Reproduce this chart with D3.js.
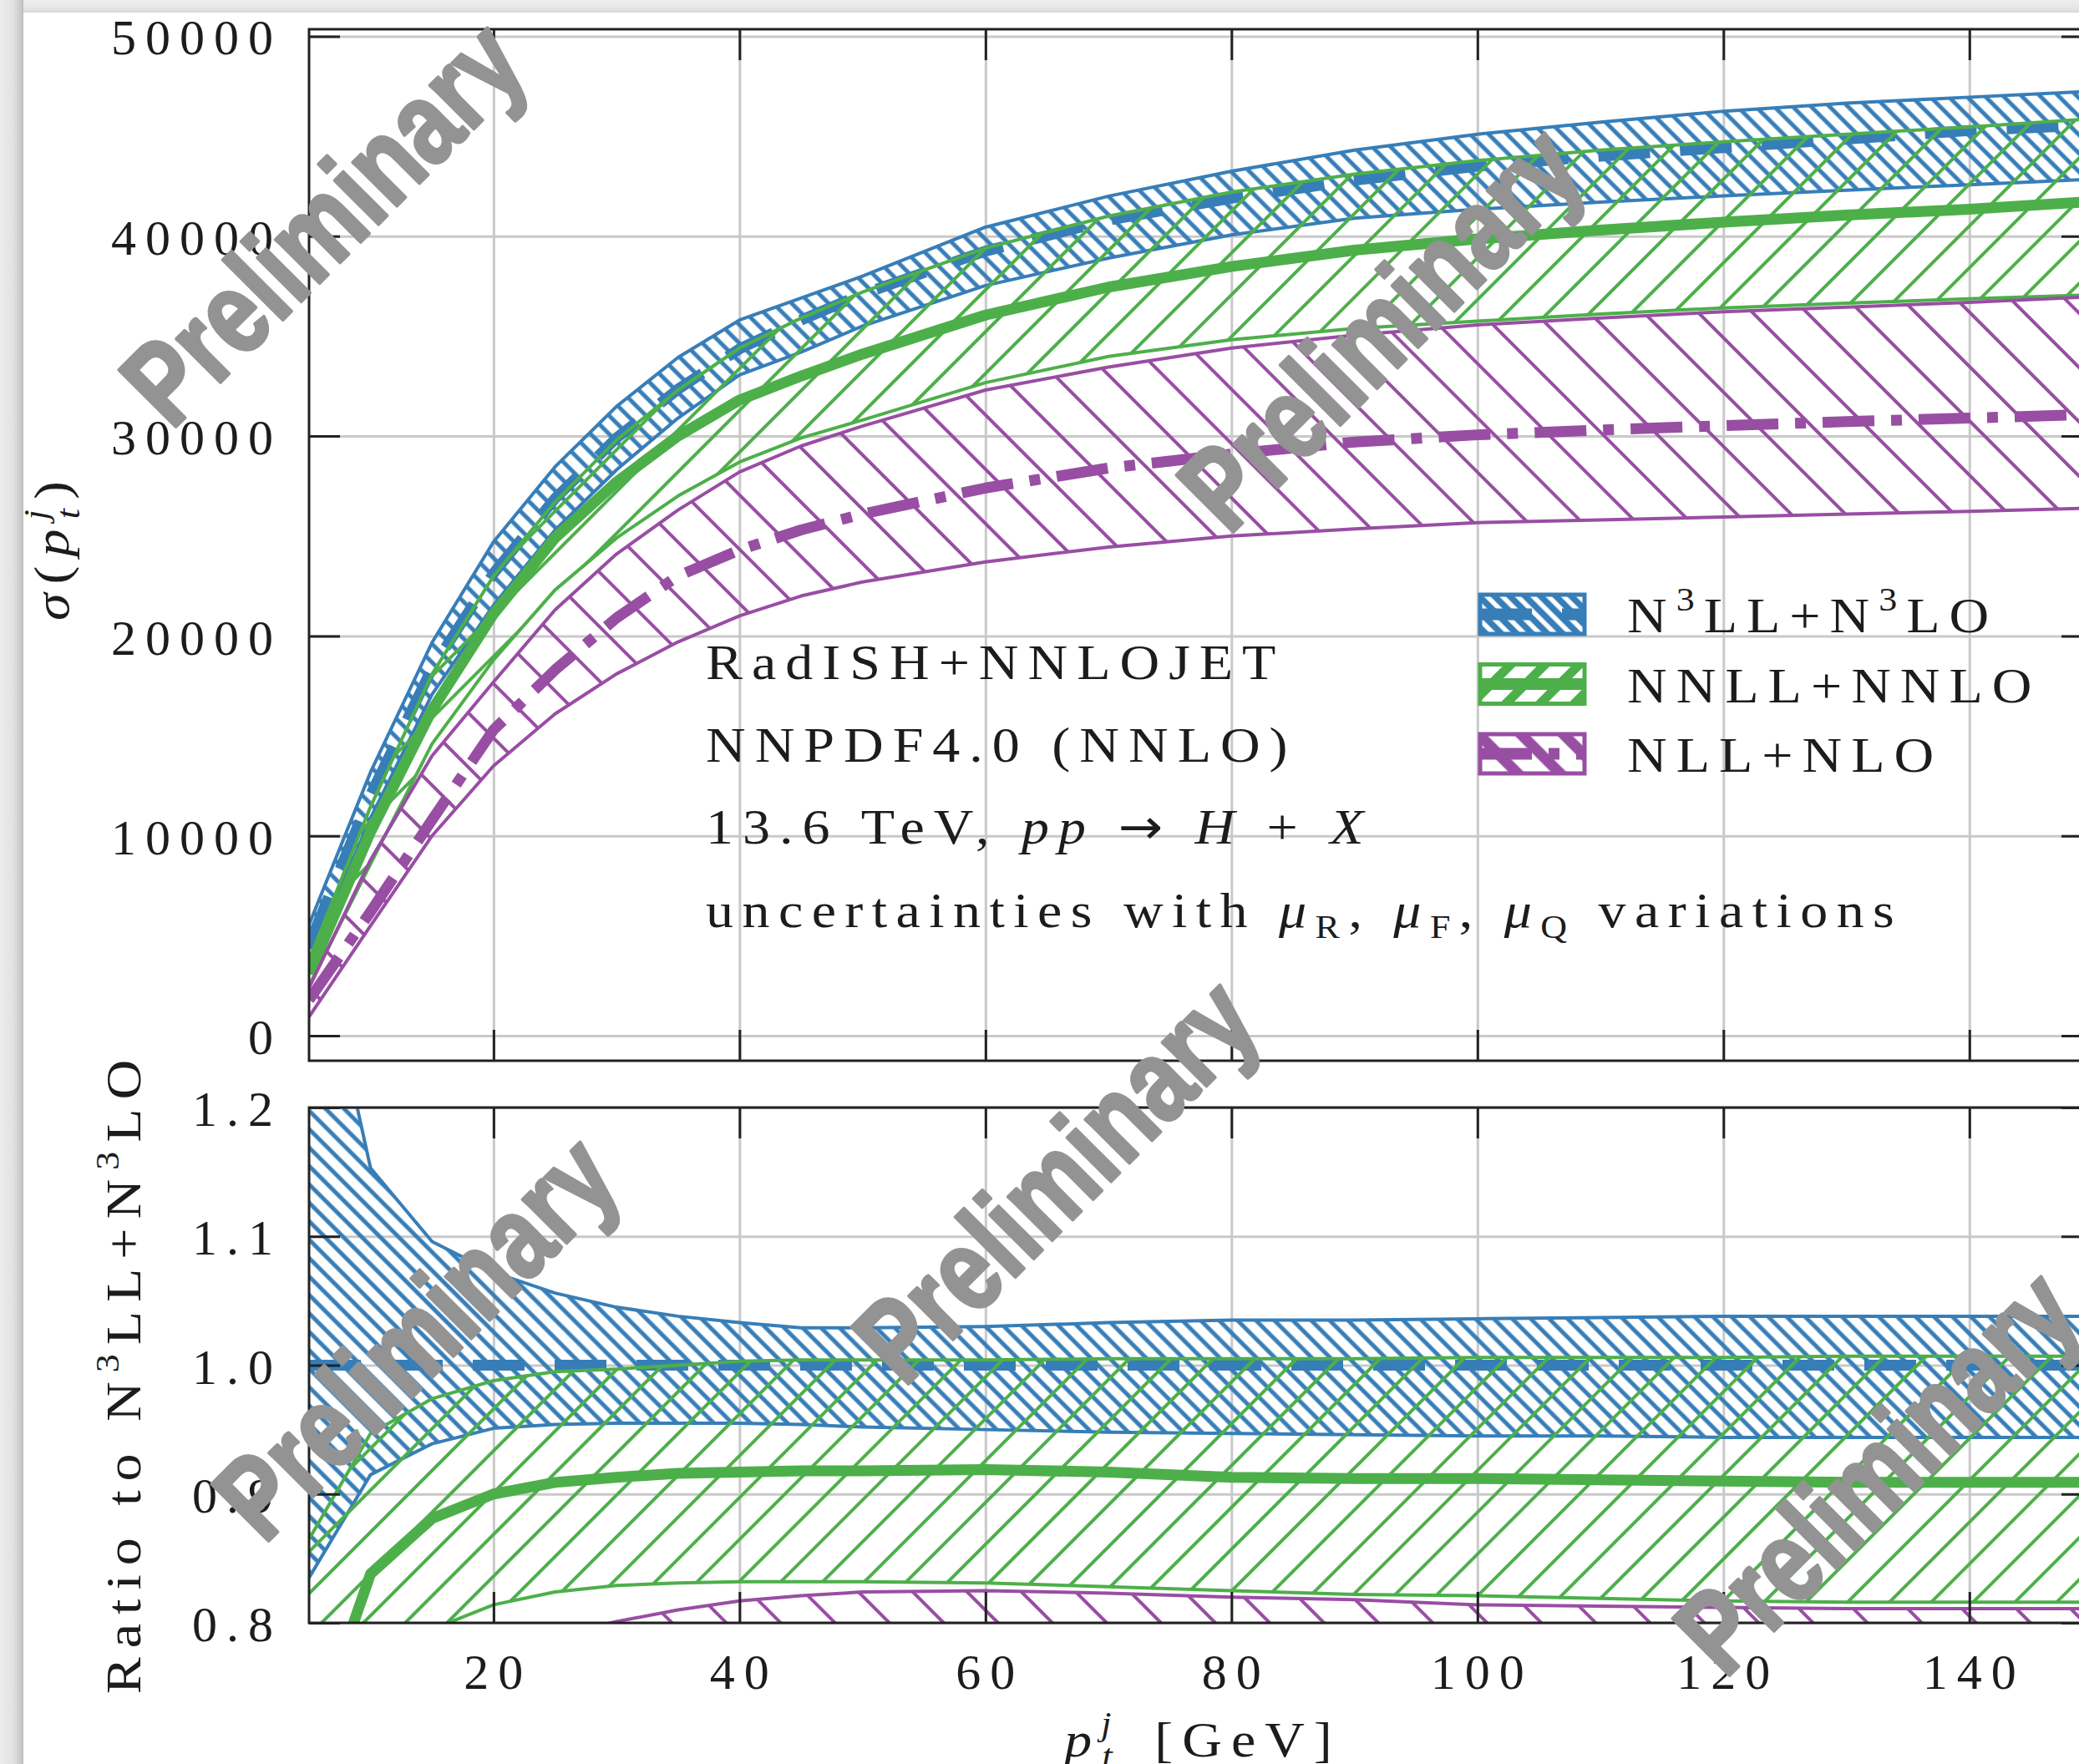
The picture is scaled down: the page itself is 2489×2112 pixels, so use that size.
<!DOCTYPE html>
<html>
<head>
<meta charset="utf-8">
<script src="https://cdn.jsdelivr.net/npm/d3@7"></script>
<style>
  html, body { margin: 0; padding: 0; background: #fff; overflow: hidden; }
  svg { display: block; }
  .tex { font-family: "Liberation Serif", "Times New Roman", serif; fill: #1c1c1c; font-size: 60px; }
  .num { letter-spacing: 11px; }
  .caps { letter-spacing: 10px; }
  .low { letter-spacing: 9.5px; }
</style>
</head>
<body>
<svg id="chart" width="2489" height="2112"></svg>
<script>
// pt^j sampling points (GeV)
const ptj = [5, 10, 15, 20, 25, 30, 35, 40, 45, 50, 60, 70, 80, 90, 100, 110, 120, 130, 140, 150];

// upper panel: sigma(pt^j), band edges and central values
const sigN3llUp  = [5560, 13190, 19670, 24710, 28460, 31480, 33930, 35800, 36900, 38000, 40450, 42000, 43250, 44300, 45100, 45700, 46250, 46650, 46950, 47250];
const sigN3llCen = [4550, 12040, 18380, 23130, 26870, 29900, 32340, 34360, 35800, 37100, 39250, 40800, 41900, 42800, 43500, 44000, 44430, 44850, 45280, 45560];
const sigN3llLo  = [3700, 10890, 17080, 21540, 25290, 28310, 30900, 33060, 34200, 35500, 37530, 38900, 40060, 40900, 41350, 41700, 42010, 42300, 42570, 42850];
const sigNnllUp  = [3800, 11460, 18090, 23000, 26700, 29800, 32300, 34400, 35900, 37200, 39400, 41000, 42200, 43100, 43780, 44300, 44720, 45100, 45460, 45870];
const sigNnllCen = [3100, 10200, 16300, 21100, 24900, 27700, 30000, 31800, 33000, 34100, 36050, 37450, 38480, 39300, 39860, 40300, 40700, 41050, 41350, 41730];
const sigNnllLo  = [2500, 8600, 14600, 18800, 22300, 24900, 27000, 28700, 29900, 30800, 32670, 33980, 34820, 35380, 35750, 36100, 36410, 36650, 36870, 37060];
const sigNllUp   = [2400, 8800, 14000, 17700, 21300, 24100, 26300, 28200, 29500, 30500, 32300, 33450, 34400, 35050, 35560, 35900, 36220, 36450, 36690, 36970];
const sigNllCen  = [1800, 6200, 10800, 15300, 18300, 20900, 23000, 24300, 25300, 26100, 27400, 28400, 29100, 29700, 30060, 30300, 30520, 30720, 30900, 31080];
const sigNllLo   = [950, 5500, 10000, 13500, 16100, 18100, 19700, 21000, 22000, 22700, 23700, 24450, 25000, 25350, 25670, 25800, 25950, 26100, 26230, 26400];

// lower panel: ratio to N3LL+N3LO
const ratN3llUp  = [1.37, 1.153, 1.096, 1.072, 1.056, 1.045, 1.038, 1.033, 1.029, 1.029, 1.030, 1.033, 1.035, 1.035, 1.036, 1.037, 1.038, 1.038, 1.038, 1.038];
const ratN3llCen = [1, 1, 1, 1, 1, 1, 1, 1, 1, 1, 1, 1, 1, 1, 1, 1, 1, 1, 1, 1];
const ratN3llLo  = [0.835, 0.915, 0.939, 0.951, 0.954, 0.955, 0.955, 0.955, 0.954, 0.952, 0.950, 0.948, 0.947, 0.946, 0.945, 0.945, 0.944, 0.944, 0.944, 0.944];
const ratNnllUp  = [0.865, 0.947, 0.974, 0.988, 0.995, 0.997, 1.000, 1.003, 1.004, 1.004, 1.004, 1.005, 1.005, 1.005, 1.006, 1.006, 1.006, 1.007, 1.007, 1.007];
const ratNnllCen = [0.70, 0.838, 0.881, 0.900, 0.909, 0.913, 0.916, 0.917, 0.918, 0.918, 0.919, 0.917, 0.913, 0.912, 0.912, 0.911, 0.910, 0.909, 0.909, 0.909];
const ratNnllLo  = [0.55, 0.70, 0.795, 0.814, 0.824, 0.829, 0.831, 0.832, 0.832, 0.832, 0.831, 0.828, 0.825, 0.822, 0.821, 0.819, 0.817, 0.816, 0.816, 0.816];
const ratNllUp   = [0.53, 0.73, 0.755, 0.775, 0.79, 0.801, 0.810, 0.817, 0.821, 0.824, 0.825, 0.823, 0.820, 0.818, 0.814, 0.813, 0.812, 0.811, 0.811, 0.811];
const ratNllCen  = [0.40, 0.51, 0.59, 0.66, 0.68, 0.70, 0.71, 0.71, 0.71, 0.70, 0.70, 0.70, 0.70, 0.69, 0.69, 0.69, 0.69, 0.685, 0.68, 0.68];
const ratNllLo   = [0.21, 0.46, 0.54, 0.58, 0.60, 0.605, 0.61, 0.61, 0.61, 0.61, 0.60, 0.60, 0.60, 0.59, 0.59, 0.59, 0.585, 0.58, 0.58, 0.58];

const xTicks = [20, 40, 60, 80, 100, 120, 140];
const sigTicks = [0, 10000, 20000, 30000, 40000, 50000];
const ratTicks = [0.8, 0.9, 1.0, 1.1, 1.2];

// ---- layout ----
const L = 370, R = 2505;
const top1 = 35, bot1 = 1270, top2 = 1326, bot2 = 1943;
const TICK = 37;
const SX = 1.1; // CM glyphs are wider than Times

const svg = d3.select("#chart");
const defs = svg.append("defs");

// page shadow (the reference is a photo of a page)
const gl = defs.append("linearGradient").attr("id", "shL").attr("x1", "0").attr("x2", "1").attr("y1", "0").attr("y2", "0");
[[0, "#ececec"], [0.55, "#e3e3e3"], [0.9, "#c9c9c9"], [1, "#bcbcbc"]].forEach(([o, c]) => gl.append("stop").attr("offset", o).attr("stop-color", c));
const gt = defs.append("linearGradient").attr("id", "shT").attr("x1", "0").attr("x2", "0").attr("y1", "0").attr("y2", "1");
[[0, "#efefef"], [0.7, "#e4e4e4"], [1, "#d6d6d6"]].forEach(([o, c]) => gt.append("stop").attr("offset", o).attr("stop-color", c));
svg.append("rect").attr("x", 0).attr("y", 0).attr("width", 2489).attr("height", 2112).attr("fill", "#fff");
svg.append("rect").attr("x", 0).attr("y", 0).attr("width", 2489).attr("height", 15).attr("fill", "url(#shT)");
svg.append("rect").attr("x", 0).attr("y", 0).attr("width", 28).attr("height", 2112).attr("fill", "url(#shL)");

// scales
const x = d3.scaleLinear().domain([5, 150]).range([L, R]);
const ySig = d3.scaleLinear().domain([-1250, 50350]).range([bot1, top1]);
const yRat = d3.scaleLinear().domain([0.8, 1.2]).range([bot2, top2]);

// hatch patterns
function hatch(id, color, spacing, angle, width) {
  const p = defs.append("pattern").attr("id", id)
    .attr("patternUnits", "userSpaceOnUse")
    .attr("width", spacing).attr("height", spacing)
    .attr("patternTransform", `rotate(${angle})`);
  p.append("line").attr("x1", spacing / 2).attr("x2", spacing / 2)
    .attr("y1", -1).attr("y2", spacing + 1)
    .attr("stroke", color).attr("stroke-width", width);
}

const series = [
  { label: [["N"], ["3", "sup"], ["LL+N"], ["3", "sup"], ["LO"]], color: "#377eb8",
    pat: ["hBlue", 15.6, -45, 5], key: ["kBlue", 13, -45, 7.5], lw: 13, dash: "62,36",
    sig: [sigN3llLo, sigN3llCen, sigN3llUp], rat: [ratN3llLo, ratN3llCen, ratN3llUp] },
  { label: [["NNLL+NNLO"]], color: "#4daf4a",
    pat: ["hGreen", 35.4, 45, 4], key: ["kGreen", 29, 45, 11], lw: 13, dash: null,
    sig: [sigNnllLo, sigNnllCen, sigNnllUp], rat: [ratNnllLo, ratNnllCen, ratNnllUp] },
  { label: [["NLL+NLO"]], color: "#984ea3",
    pat: ["hPurple", 46, -45, 4], key: ["kPurple", 36, -45, 13], lw: 13, dash: "62,20,13,20",
    sig: [sigNllLo, sigNllCen, sigNllUp], rat: [ratNllLo, ratNllCen, ratNllUp] }
];
series.forEach(s => {
  hatch(s.pat[0], s.color, s.pat[1], s.pat[2], s.pat[3]);
  hatch(s.key[0], s.color, s.key[1], s.key[2], s.key[3]);
});

// clips
defs.append("clipPath").attr("id", "c1").append("rect").attr("x", L).attr("y", top1).attr("width", R - L).attr("height", bot1 - top1);
defs.append("clipPath").attr("id", "c2").append("rect").attr("x", L).attr("y", top2).attr("width", R - L).attr("height", bot2 - top2);

function grid(y, ticks, y0, y1) {
  const g = svg.append("g").attr("color", "#c9c9c9").attr("stroke-width", 3);
  g.append("g").attr("transform", `translate(0,${y1})`)
    .call(d3.axisBottom(x).tickValues(xTicks).tickSize(-(y1 - y0)).tickFormat(""))
    .call(a => a.select(".domain").remove());
  g.append("g").attr("transform", `translate(${L},0)`)
    .call(d3.axisLeft(y).tickValues(ticks).tickSize(-(R - L)).tickFormat(""))
    .call(a => a.select(".domain").remove());
}

function bands(y, key, clip) {
  const g = svg.append("g").attr("clip-path", `url(#${clip})`);
  series.forEach(s => {
    const [lo, cen, up] = s[key];
    const rows = ptj.map((p, i) => [p, lo[i], cen[i], up[i]]);
    const area = d3.area().x(d => x(d[0])).y0(d => y(d[1])).y1(d => y(d[3]));
    const line = j => d3.line().x(d => x(d[0])).y(d => y(d[j]));
    g.append("path").attr("d", area(rows)).attr("fill", `url(#${s.pat[0]})`);
    [1, 3].forEach(j => g.append("path").attr("d", line(j)(rows))
      .attr("fill", "none").attr("stroke", s.color).attr("stroke-width", 4).attr("stroke-linejoin", "round"));
    g.append("path").attr("d", line(2)(rows))
      .attr("fill", "none").attr("stroke", s.color).attr("stroke-width", s.lw)
      .attr("stroke-dasharray", s.dash).attr("stroke-linejoin", "round");
  });
}

function frame(y, ticks, y0, y1, fmt, withX) {
  const g = svg.append("g").attr("color", "#222").attr("stroke-width", 3);
  const bottom = g.append("g").attr("transform", `translate(0,${y1})`)
    .call(d3.axisBottom(x).tickValues(xTicks).tickSize(-TICK).tickPadding(36).tickFormat(withX ? d3.format("d") : ""))
    .call(a => a.select(".domain").remove());
  g.append("g").attr("transform", `translate(0,${y0})`)
    .call(d3.axisTop(x).tickValues(xTicks).tickSize(-TICK).tickFormat(""))
    .call(a => a.select(".domain").remove());
  g.append("g").attr("transform", `translate(${L},0)`)
    .call(d3.axisLeft(y).tickValues(ticks).tickSize(-TICK).tickPadding(32).tickFormat(fmt))
    .call(a => a.select(".domain").remove());
  g.append("g").attr("transform", `translate(${R},0)`)
    .call(d3.axisRight(y).tickValues(ticks).tickSize(-TICK).tickFormat(""))
    .call(a => a.select(".domain").remove());
  g.append("rect").attr("x", L).attr("y", y0).attr("width", R - L).attr("height", y1 - y0)
    .attr("fill", "none").attr("stroke", "#222").attr("stroke-width", 3);
  g.selectAll("text").attr("class", "tex num").attr("dy", "0.36em");
  if (withX) bottom.selectAll("text").attr("dy", "0.71em").attr("dx", 5);
}

grid(ySig, sigTicks, top1, bot1);
grid(yRat, ratTicks, top2, bot2);
bands(ySig, "sig", "c1");
bands(yRat, "rat", "c2");
frame(ySig, sigTicks, top1, bot1, d3.format("d"), false);
frame(yRat, ratTicks, top2, bot2, d3.format(".1f"), true);

// rich text helper: parts = [text, kind, dx]; placed with a transform and widened by SX
function rich(parent, parts, place, cls, anchor) {
  const t = parent.append("text").attr("class", "tex " + (cls || "caps"))
    .attr("transform", `${place} scale(${SX},1)`);
  if (anchor) t.attr("text-anchor", anchor);
  let shift = 0;
  parts.forEach(p => {
    const [s, kind = "", dx] = p;
    const ts = t.append("tspan").text(s);
    let target = 0;
    if (kind.includes("sup")) target = -26;
    if (kind.includes("sub")) target = 13;
    if (target !== shift) { ts.attr("dy", target - shift); shift = target; }
    if (target !== 0) ts.attr("font-size", 40);
    if (kind.startsWith("i")) ts.attr("font-style", "italic");
    if (kind === "arrow") ts.attr("font-family", "'DejaVu Sans', sans-serif").attr("font-size", 58);
    if (dx != null) ts.attr("dx", dx);
  });
  return t;
}

// legend
const lg = svg.append("g");
series.forEach((s, i) => {
  const y0 = 712 + i * 83.5;
  lg.append("rect").attr("x", 1772).attr("y", y0).attr("width", 125).attr("height", 47)
    .attr("fill", `url(#${s.key[0]})`).attr("stroke", s.color).attr("stroke-width", 5);
  lg.append("line").attr("x1", 1772).attr("x2", 1897).attr("y1", y0 + 23.5).attr("y2", y0 + 23.5)
    .attr("stroke", s.color).attr("stroke-width", 14).attr("stroke-dasharray", s.dash);
  rich(lg, s.label, `translate(1948,${757 + i * 83.5})`);
});

// annotation block
const ann = svg.append("g");
rich(ann, [["RadISH+NNLOJET"]], "translate(845,813)");
rich(ann, [["NNPDF4.0 (NNLO)"]], "translate(845,912)");
rich(ann, [["13.6 TeV, "], ["pp", "i"], [" "], ["\u2192", "arrow"], [" "], ["H", "i"], [" + "], ["X", "i"]], "translate(845,1010)");
rich(ann, [["uncertainties with "], ["\u03bc", "i"], ["R", "sub"], [", "], ["\u03bc", "i"], ["F", "sub"], [", "], ["\u03bc", "i"], ["Q", "sub"], [" variations"]], "translate(845,1110)", "low");

// axis titles
rich(svg, [["\u03c3", "i"], ["("], ["p", "i"], ["j", "isup"], ["t", "isub", -20], [")"]],
  "translate(82,654) rotate(-90)", "caps", "middle");
rich(svg, [["Ratio to N"], ["3", "sup"], ["LL+N"], ["3", "sup"], ["LO"]],
  "translate(168,1643) rotate(-90)", "caps", "middle");
rich(svg, [["p", "i"], ["j", "isup"], ["t", "isub", -20], ["[GeV]", "", 36]],
  "translate(1440,2103)", "caps", "middle");

// watermarks
const marks = [[395, 275], [1661, 401], [1272, 1421], [506, 1609], [2255, 1770]];
const wm = svg.append("g");
marks.forEach(([cx, cy]) => {
  wm.append("text")
    .attr("transform", `translate(${cx},${cy}) rotate(-45) scale(0.8,1)`)
    .attr("text-anchor", "middle").attr("dy", "0.26em")
    .attr("font-family", "'Liberation Sans', Arial, sans-serif")
    .attr("font-weight", 700).attr("font-size", 140)
    .attr("fill", "#939393").attr("stroke", "#939393").attr("stroke-width", 4)
    .attr("stroke-linejoin", "round")
    .text("Preliminary");
});
</script>
</body>
</html>
